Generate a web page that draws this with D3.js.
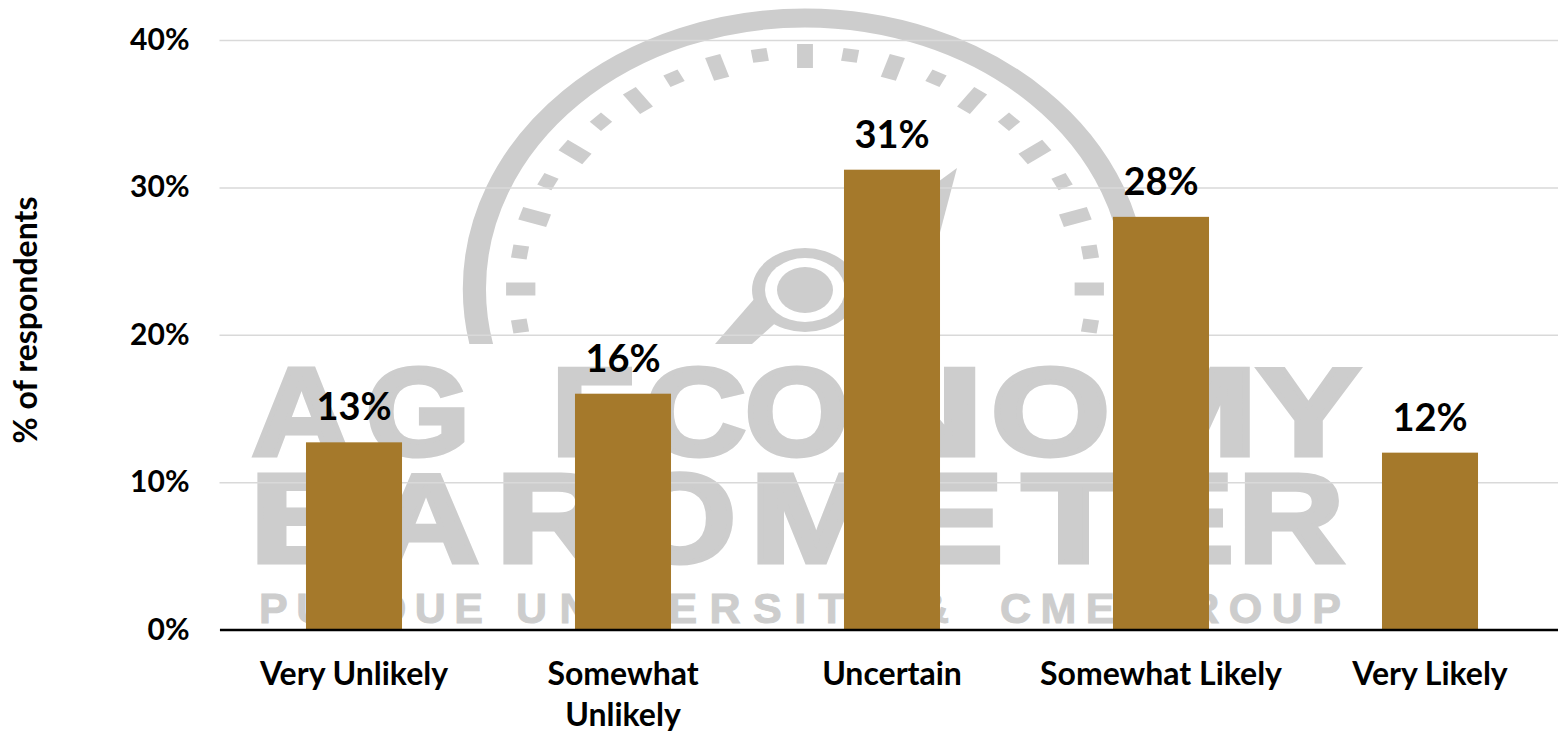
<!DOCTYPE html>
<html><head><meta charset="utf-8">
<script src="https://cdn.jsdelivr.net/npm/d3@7"></script>
<style>html,body{margin:0;background:#fff}svg{display:block}text{font-family:Lato,"Open Sans",sans-serif;font-weight:700}</style>
</head><body><svg id="c" width="1558" height="732"></svg>
<script>
const categories=["Very Unlikely","Somewhat Unlikely","Uncertain","Somewhat Likely","Very Likely"];
const categoryLines=[["Very Unlikely"],["Somewhat","Unlikely"],["Uncertain"],["Somewhat Likely"],["Very Likely"]];
const values=[12.7,16.0,31.2,28.0,12.0];
const yTicks=[0,10,20,30,40];
const yTitle="% of respondents";
const wmLong=[-90,-72,-54,-36,-18,0,18,36,54,72,90];
const wmShort=[-99,-81,-63,-45,-27,-9,9,27,45,63,81,99];

const W=1558,H=732,m={l:219.5,r:0,t:40,b:102.5};
const svg=d3.select("#c");
const x=d3.scaleBand().domain(categories).range([m.l,1564.5]).paddingInner(0.643).paddingOuter(0.3215);
const y=d3.scaleLinear().domain([0,40]).range([H-m.b,m.t]);
const GRAY="#cdcdcd";

// watermark
const wm=svg.append("g").attr("fill",GRAY);
const defs=svg.append("defs");
defs.append("clipPath").attr("id","arcclip").append("rect").attr("x",400).attr("y",0).attr("width",800).attr("height",344);
const gauge=wm.append("g").attr("clip-path","url(#arcclip)")
  .append("g").attr("transform","translate(805,289) scale(1.22,1)");
gauge.append("circle").attr("r",271).attr("fill","none").attr("stroke",GRAY).attr("stroke-width",19);
gauge.selectAll("rect.l").data(wmLong).join("rect").attr("class","l")
  .attr("x",-6.5).attr("y",-245).attr("width",13).attr("height",24).attr("transform",d=>`rotate(${d})`);
gauge.selectAll("rect.s").data(wmShort).join("rect").attr("class","s")
  .attr("x",-6.5).attr("y",-243).attr("width",13).attr("height",13).attr("transform",d=>`rotate(${d})`);
wm.append("path").attr("d","M957,168 L938,240 L860,305 L845,250 Z");
wm.append("path").attr("d","M715,344 L752,344 L790,310 L762,290 Z");
wm.append("ellipse").attr("cx",805).attr("cy",290).attr("rx",53).attr("ry",42);
wm.append("ellipse").attr("cx",805).attr("cy",290).attr("rx",40).attr("ry",32).attr("fill","#fff");
wm.append("ellipse").attr("cx",805).attr("cy",290).attr("rx",28).attr("ry",23);
// logo lettering, placed glyph by glyph: [letter, left, right]
const wmRow1=[["A",252,351],["G",366,470],["E",552,637],["C",645,746],["O",745,849],["N",850,984],["O",991,1110],["M",1112,1258],["Y",1257,1360]];
const wmRow2=[["B",250,364],["A",373,479],["R",496,610],["O",624,736],["M",750,882],["E",904,1003],["T",1022,1125],["E",1128,1234],["R",1238,1344]];
const wmRows=[...wmRow1.map(d=>({t:d[0],x:d[1],w:d[2]-d[1],b:455,s:124,k:5})),
              ...wmRow2.map(d=>({t:d[0],x:d[1],w:d[2]-d[1],b:562,s:126,k:5}))];
const wmSmall=[
 {t:"PURDUE",x:259,w:224,b:623,s:43,k:1},
 {t:"UNIVERSITY",x:516,w:370,b:623,s:43,k:1},
 {t:"&",x:918,w:34,b:623,s:43,k:1},
 {t:"CME GROUP",x:1000,w:341,b:623,s:43,k:1}];
wm.selectAll("text").data([...wmRows,...wmSmall]).join("text")
  .attr("x",d=>d.x).attr("y",d=>d.b).attr("font-size",d=>d.s)
  .attr("textLength",d=>d.w).attr("lengthAdjust",d=>d.s>100?"spacingAndGlyphs":"spacing")
  .style("font-family","'Liberation Sans',sans-serif").style("font-weight",700)
  .attr("stroke",GRAY).attr("stroke-width",d=>d.k).text(d=>d.t);

// y axis + grid
const gy=svg.append("g").attr("transform",`translate(${m.l},0)`)
  .call(d3.axisLeft(y).tickValues(yTicks).tickSize(-(1558-m.l)).tickPadding(30).tickFormat(d=>d+"%"));
gy.select(".domain").remove();
gy.selectAll(".tick line").attr("stroke","#d9d9d9").attr("stroke-width",1.5);
gy.selectAll(".tick text").attr("font-size",30).attr("fill","#000").style("font-family","Lato");

// bars
svg.selectAll("rect.bar").data(values).join("rect").attr("class","bar")
  .attr("x",(d,i)=>x(categories[i])).attr("width",x.bandwidth())
  .attr("y",d=>y(d)).attr("height",d=>y(0)-y(d)).attr("fill","#a5792b");

// value labels
svg.selectAll("text.val").data(values).join("text").attr("class","val")
  .attr("x",(d,i)=>x(categories[i])+x.bandwidth()/2).attr("y",d=>y(d)-22)
  .attr("text-anchor","middle").attr("font-size",38).attr("fill","#000")
  .text(d=>Math.round(d)+"%");

// x axis
const gx=svg.append("g").attr("transform",`translate(0,${y(0)})`)
  .call(d3.axisBottom(x).tickSize(0).tickFormat(""));
gx.select(".domain").attr("stroke","#000").attr("stroke-width",2.5);
gx.selectAll(".tick text").remove();
gx.selectAll(".tick").append("text").attr("text-anchor","middle").attr("font-size",32).attr("fill","#000")
  .each(function(d,i){
    d3.select(this).selectAll("tspan").data(categoryLines[i]).join("tspan")
      .attr("x",0).attr("y",(l,j)=>55+j*41).text(l=>l);
  });

// y title
svg.append("text").attr("transform","translate(37,320) rotate(-90)")
  .attr("text-anchor","middle").attr("font-size",32).attr("fill","#000").text(yTitle);
</script></body></html>
